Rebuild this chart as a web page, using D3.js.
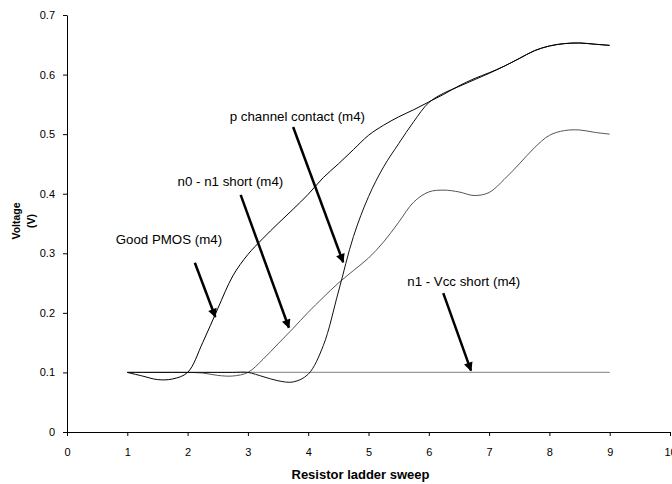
<!DOCTYPE html>
<html>
<head>
<meta charset="utf-8">
<script src="https://cdn.jsdelivr.net/npm/d3@7"></script>
<style>
  body { margin: 0; background: #fff; }
  svg { display: block; font-family: "Liberation Sans", Arial, sans-serif; }
</style>
</head>
<body>
<div id="chart"></div>
<script>
// sweep points (x) shared by all series
const sweep = [1, 1.25, 1.5, 1.75, 2, 2.25, 2.5, 2.75, 3, 3.25, 3.5, 3.75, 4, 4.25, 4.5, 4.75,
  5, 5.25, 5.5, 5.75, 6, 6.25, 6.5, 6.75, 7, 7.25, 7.5, 7.75, 8, 8.25, 8.5, 8.75, 9];

const goodPmos = [0.100, 0.094, 0.088, 0.089, 0.100, 0.150, 0.207, 0.262, 0.298, 0.325, 0.350, 0.374,
  0.399, 0.427, 0.450, 0.474, 0.498, 0.515, 0.529, 0.541, 0.554, 0.567, 0.581, 0.593,
  0.603, 0.614, 0.627, 0.640, 0.648, 0.652, 0.653, 0.651, 0.649];

const pChannel = [0.100, 0.100, 0.100, 0.100, 0.100, 0.100, 0.100, 0.100, 0.100, 0.093, 0.086, 0.084,
  0.097, 0.145, 0.235, 0.328, 0.395, 0.445, 0.484, 0.521, 0.553, 0.569, 0.580, 0.591,
  0.602, 0.614, 0.627, 0.640, 0.648, 0.652, 0.653, 0.651, 0.649];

const n0n1Short = [0.100, 0.100, 0.100, 0.100, 0.100, 0.099, 0.095, 0.094, 0.100, 0.122, 0.148, 0.174,
  0.201, 0.226, 0.250, 0.271, 0.292, 0.319, 0.352, 0.386, 0.403, 0.406, 0.403, 0.397,
  0.402, 0.424, 0.450, 0.477, 0.498, 0.506, 0.507, 0.503, 0.500];

const n1VccShort = [0.100, 0.100, 0.100, 0.100, 0.100, 0.100, 0.100, 0.100, 0.100, 0.100, 0.100, 0.100,
  0.100, 0.100, 0.100, 0.100, 0.100, 0.100, 0.100, 0.100, 0.100, 0.100, 0.100, 0.100,
  0.100, 0.100, 0.100, 0.100, 0.100, 0.100, 0.100, 0.100, 0.100];

const xTicks = [0, 1, 2, 3, 4, 5, 6, 7, 8, 9, 10];
const yTicks = [0, 0.1, 0.2, 0.3, 0.4, 0.5, 0.6, 0.7];

// callout labels, in data units: text centre and arrow from/to
const notes = [
  { text: "p channel contact (m4)", tx: 3.82, ty: 0.530, x1: 3.75, y1: 0.512, x2: 4.58, y2: 0.285 },
  { text: "n0 - n1 short (m4)",     tx: 2.71, ty: 0.420, x1: 2.88, y1: 0.398, x2: 3.68, y2: 0.175 },
  { text: "Good PMOS (m4)",         tx: 1.69, ty: 0.323, x1: 2.12, y1: 0.284, x2: 2.46, y2: 0.193 },
  { text: "n1 - Vcc short (m4)",    tx: 6.58, ty: 0.253, x1: 6.24, y1: 0.233, x2: 6.70, y2: 0.103 }
];

const width = 672, height = 484;
const plot = { left: 67, right: 670, top: 15, bottom: 432 };

const svg = d3.select("#chart").append("svg")
  .attr("width", width)
  .attr("height", height);

const x = d3.scaleLinear().domain([0, 10]).range([plot.left, plot.right]);
const y = d3.scaleLinear().domain([0, 0.7]).range([plot.bottom, plot.top]);

svg.append("defs").append("marker")
  .attr("id", "head")
  .attr("viewBox", "0 0 10 10")
  .attr("refX", 9).attr("refY", 5)
  .attr("markerUnits", "userSpaceOnUse")
  .attr("markerWidth", 11).attr("markerHeight", 9)
  .attr("orient", "auto")
  .append("path")
  .attr("d", "M0,0 L10,5 L0,10 Z")
  .attr("fill", "#000");

// axes
const xAxis = svg.append("g")
  .attr("transform", `translate(0,${plot.bottom})`)
  .call(d3.axisBottom(x).tickValues(xTicks).tickSize(4).tickPadding(12).tickSizeOuter(0));

const yAxis = svg.append("g")
  .attr("transform", `translate(${plot.left},0)`)
  .call(d3.axisLeft(y).tickValues(yTicks).tickSize(4).tickPadding(8).tickSizeOuter(0)
    .tickFormat(d => d === 0 ? "0" : d3.format(".1f")(d)));

[xAxis, yAxis].forEach(g => {
  g.select(".domain").attr("stroke", "#000").attr("stroke-width", 1);
  g.selectAll(".tick line").attr("stroke", "#000");
  g.selectAll(".tick text")
    .attr("fill", "#000")
    .style("font-size", "11px")
    .style("font-family", "'Liberation Sans', Arial, sans-serif");
});

// series
const line = d3.line()
  .x(d => x(d[0]))
  .y(d => y(d[1]))
  .curve(d3.curveCatmullRom.alpha(0.5));

const series = [
  { values: n1VccShort, color: "#999", w: 1.2 },
  { values: n0n1Short, color: "#555", w: 1 },
  { values: pChannel, color: "#111", w: 1 },
  { values: goodPmos, color: "#000", w: 1 }
];

series.forEach(s => {
  svg.append("path")
    .datum(sweep.map((v, i) => [v, s.values[i]]))
    .attr("d", line)
    .attr("fill", "none")
    .attr("stroke", s.color)
    .attr("stroke-width", s.w);
});

// callouts
notes.forEach(n => {
  svg.append("text")
    .attr("x", x(n.tx))
    .attr("y", y(n.ty))
    .attr("dy", "0.35em")
    .attr("text-anchor", "middle")
    .style("font-size", "13.3px")
    .attr("fill", "#000")
    .text(n.text);

  svg.append("line")
    .attr("x1", x(n.x1)).attr("y1", y(n.y1))
    .attr("x2", x(n.x2)).attr("y2", y(n.y2))
    .attr("stroke", "#000")
    .attr("stroke-width", 2.5)
    .attr("marker-end", "url(#head)");
});

// axis titles
svg.append("text")
  .attr("x", (plot.left + plot.right) / 2 - 8)
  .attr("y", 474)
  .attr("dy", "0.35em")
  .attr("text-anchor", "middle")
  .style("font-size", "13px")
  .style("font-weight", "bold")
  .text("Resistor ladder sweep");

svg.append("text")
  .attr("transform", "translate(16,221) rotate(-90)")
  .attr("text-anchor", "middle")
  .attr("dy", "0.35em")
  .style("font-size", "10.5px")
  .style("font-weight", "bold")
  .text("Voltage");
svg.append("text")
  .attr("transform", "translate(31,221) rotate(-90)")
  .attr("text-anchor", "middle")
  .attr("dy", "0.35em")
  .style("font-size", "10.5px")
  .style("font-weight", "bold")
  .text("(V)");
</script>
</body>
</html>
